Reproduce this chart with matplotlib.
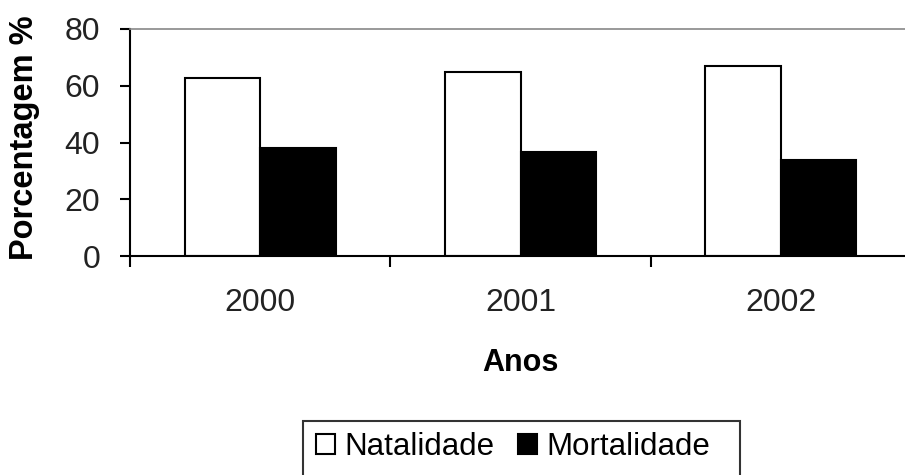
import matplotlib.pyplot as plt
import matplotlib.patches as mpatches
import numpy as np

anos = ['2000', '2001', '2002']
natalidade = [62.7, 64.7, 66.8]
mortalidade = [38.2, 36.8, 33.8]

plt.rcParams['font.family'] = ['Liberation Sans', 'DejaVu Sans']

fig = plt.figure(figsize=(9.05, 4.75), dpi=100)
ax = fig.add_axes([130/905, 1-256/475, 781/905, 227/475])

x = np.arange(len(anos))
w = 0.29
ax.bar(x - w/2, natalidade, w, color='white', edgecolor='black', linewidth=1.5, label='Natalidade')
ax.bar(x + w/2, mortalidade, w, color='black', edgecolor='black', linewidth=1.5, label='Mortalidade')

ax.set_xlim(-0.5, 2.5)
ax.set_ylim(0, 80)
ax.set_yticks([0, 20, 40, 60, 80])
ax.set_xticks(x)
ax.set_xticklabels(anos)
ax.set_xticks([-0.5, 0.5, 1.5, 2.5], minor=True)
ax.tick_params(axis='x', which='major', length=0, pad=23, labelsize=23, labelcolor='#222222')
ax.tick_params(axis='x', which='minor', length=8, width=1.5, direction='out')
ax.tick_params(axis='y', length=7.5, width=1.5, direction='out', pad=14, labelsize=23, labelcolor='#222222')

ax.spines['left'].set_linewidth(1.5)
ax.spines['bottom'].set_linewidth(1.5)
ax.spines['top'].set_color('#888888')
ax.spines['top'].set_linewidth(1.2)
ax.spines['right'].set_color('#888888')

ax.set_ylabel('Porcentagem %', fontsize=23.5, fontweight='bold')
ax.yaxis.set_label_coords(-90/781, 0.52)
ax.set_xlabel('Anos', fontsize=22, fontweight='bold')
ax.xaxis.set_label_coords(0.5, -92/227)

# legenda
leg = fig.legend(loc='center', bbox_to_anchor=(513/905, 1-447/475), ncol=2, frameon=False,
                 fontsize=22.5, handlelength=0.6, handleheight=0.6, handletextpad=0.3,
                 columnspacing=0.75)
fig.add_artist(mpatches.Rectangle((303/905, -0.05), (740-303)/905, 0.05+1-421/475,
                                  transform=fig.transFigure, fill=False, edgecolor='#333333', linewidth=1.5))

plt.savefig('out.png', dpi=100)
